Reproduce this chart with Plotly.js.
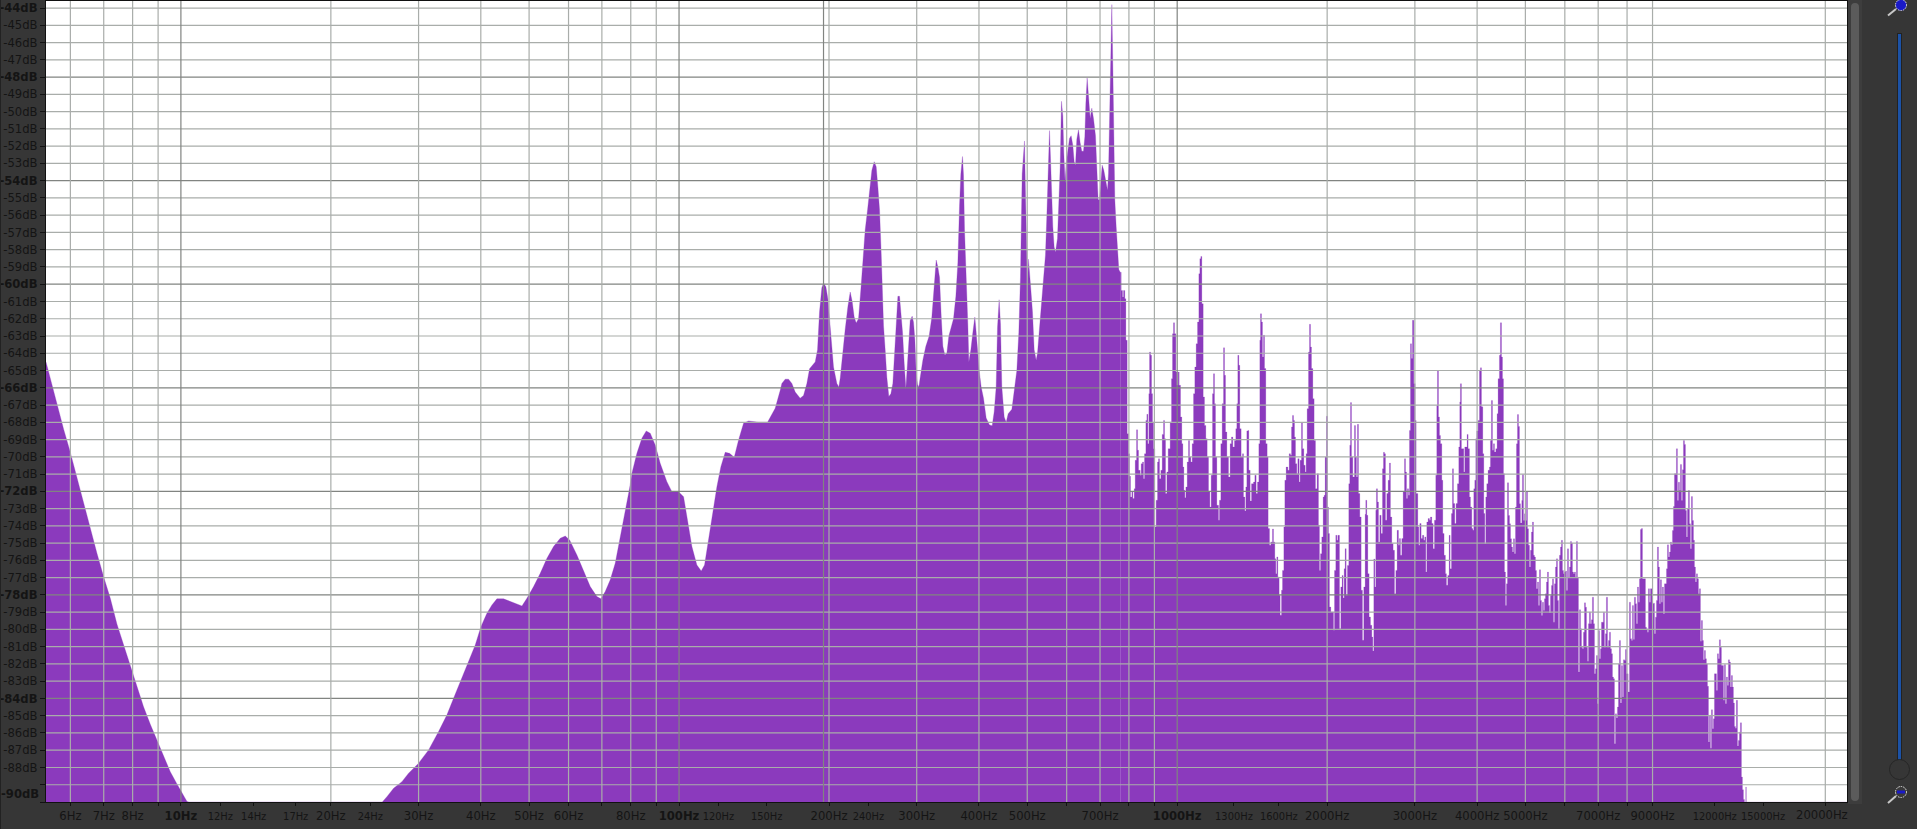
<!DOCTYPE html>
<html>
<head>
<meta charset="utf-8">
<script src="https://cdn.plot.ly/plotly-3.0.1.min.js"></script>
<style>
html,body{margin:0;padding:0;background:#363636;overflow:hidden;width:1917px;height:829px}
#chart{position:absolute;left:0;top:0;width:1917px;height:829px}
.d{position:absolute}
</style>
</head>
<body>
<div id="chart"></div>
<div class="d" style="left:0;top:0;width:1px;height:829px;background:#222"></div>
<div class="d" style="left:1848px;top:0;width:14px;height:804px;background:#3d3d3d"></div>
<div class="d" style="left:1851px;top:3px;width:8px;height:798px;background:#5b5b5b;border-radius:4px"></div>
<div class="d" style="left:1897px;top:33px;width:3px;height:727px;background:#1c52a6;border:1px solid #222;box-sizing:content-box"></div>
<div class="d" style="left:1889px;top:759px;width:19px;height:19px;border:1px solid #262626;border-radius:50%;background:#363636"></div>
<svg class="d" style="left:1885px;top:0" width="26" height="20"><line x1="11" y1="9" x2="3" y2="15.5" stroke="#c8c8c8" stroke-width="2"/><circle cx="16" cy="5" r="5.5" fill="#1a1ac8" stroke="#e8e8e8" stroke-dasharray="1.5 1"/></svg>
<svg class="d" style="left:1885px;top:784px" width="26" height="22"><line x1="11" y1="12" x2="3" y2="19" stroke="#c8c8c8" stroke-width="2"/><circle cx="16" cy="8" r="5.5" fill="#3a3a3a" stroke="#e8e8e8" stroke-dasharray="1.5 1"/><rect x="12" y="6.5" width="8" height="3" fill="#1a1ac8"/></svg>
<script>
// Spectrum readings: log10 of frequency (Hz) and level (dB), band by band.
const lowLogHz = [.7292,.7379,.7513,.7646,.7767,.7914,.8048,.8182,.8316,.8449,.8583,.8717,.8851,.8984,.9118,.9252,.9386,.9520,.9653,.9787,.9921,1.0021,1.0122,1.0160,1.4043];
const lowDb = [-64.5,-65.45,-67.05,-68.4,-69.6,-71.25,-72.7,-74.1,-75.6,-76.95,-78.2,-79.7,-80.9,-82.1,-83.3,-84.5,-85.5,-86.4,-87.4,-88.25,-88.95,-89.45,-89.97,-90,-90];

const riseLogHz = [1.4136,1.4270,1.4437,1.4571,1.4772,1.4973,1.5173,1.5341,1.5474,1.5608,1.5775,1.5909,1.6023,1.6143,1.6244,1.6344,1.6478,1.6612,1.6745,1.6846,1.6946,1.7080,1.7214,1.7348,1.7481,1.7615,1.7716,1.7803,1.7950,1.8084,1.8217,1.8351,1.8432,1.8518,1.8619,1.8719,1.8819,1.8920,1.9007,1.9054,1.9154,1.9254,1.9341,1.9422,1.9522,1.9622,1.9756,1.9856,1.9990,2.0091,2.0157,2.0258,2.0358,2.0445,2.0512,2.0592,2.0693,2.0760,2.0840,2.0927,2.1014,2.1108,2.1195,2.1295,2.1395,2.1596,2.1776,2.1930];
const riseDb = [-89.69,-89.2,-88.82,-88.33,-87.75,-86.98,-85.92,-84.95,-83.99,-83.02,-81.87,-80.9,-79.84,-79.07,-78.58,-78.23,-78.23,-78.39,-78.54,-78.64,-78.2,-77.52,-76.75,-75.88,-75.2,-74.72,-74.59,-74.82,-75.69,-76.65,-77.52,-78.1,-78.23,-77.81,-77.13,-76.17,-74.72,-73.08,-71.82,-70.95,-69.8,-68.93,-68.5,-68.64,-69.31,-70.38,-71.44,-72.02,-72.02,-72.31,-73.47,-75.2,-76.27,-76.61,-76.27,-74.82,-72.89,-71.73,-70.57,-69.74,-69.8,-70.03,-69.02,-68.06,-67.92,-68,-68,-67.19];

const midLogHz = [2.2031,2.2064,2.2131,2.2198,2.2265,2.2332,2.2432,2.2499,2.2566,2.2620,2.2733,2.2780,2.2820,2.2867,2.2901,2.2948,2.2988,2.3021,2.3055,2.3101,2.3168,2.3208,2.3235,2.3289,2.3336,2.3389,2.3436,2.3476,2.3516,2.3556,2.3603,2.3650,2.3690,2.3737,2.3784,2.3824,2.3871,2.3918,2.3958,2.3991,2.4025,2.4058,2.4085,2.4105,2.4138,2.4172,2.4212,2.4252,2.4292,2.4326,2.4359,2.4393,2.4426,2.4453,2.4487,2.4520,2.4553,2.4580,2.4607,2.4640,2.4680,2.4707,2.4734,2.4761,2.4787,2.4814,2.4841,2.4894,2.4954,2.5021,2.5075,2.5122,2.5162,2.5195,2.5229,2.5262,2.5296,2.5336,2.5376,2.5416,2.5456,2.5510,2.5557,2.5597,2.5630,2.5657,2.5690,2.5710,2.5731,2.5757,2.5777,2.5797,2.5818,2.5858,2.5898,2.5938,2.5965,2.5991,2.6025,2.6065,2.6112,2.6165,2.6232,2.6286,2.6326,2.6366,2.6393,2.6426,2.6453,2.6480,2.6527,2.6567,2.6607,2.6681,2.6734,2.6781,2.6821,2.6854,2.6888,2.6915,2.6935,2.6955,2.6975,2.6995,2.7015,2.7035,2.7062,2.7095,2.7129,2.7169,2.7196,2.7229,2.7269,2.7316,2.7356,2.7383,2.7410,2.7437,2.7457,2.7477,2.7503,2.7530,2.7557,2.7597,2.7624,2.7651,2.7677,2.7704,2.7724,2.7751,2.7771,2.7798,2.7838,2.7871,2.7905,2.7932,2.7958,2.7985,2.8019,2.8052,2.8085,2.8119,2.8146,2.8166,2.8192,2.8219,2.8253,2.8286,2.8320,2.8360,2.8387,2.8413,2.8440,2.8467,2.8494,2.8527,2.8560,2.8601,2.8621,2.8641,2.8667,2.8688,2.8708,2.8728,2.8748,2.8775,2.8801,2.8828];
const midDb = [-66.15,-65.75,-65.5,-65.5,-65.75,-66.25,-66.6,-66.45,-65.75,-64.9,-64.5,-63.8,-61.6,-60.2,-59.95,-60.15,-60.85,-62.1,-63.4,-64.8,-65.75,-65.95,-65.45,-63.8,-62.6,-61.3,-60.45,-61,-61.9,-62.25,-62,-60.3,-58.75,-56.85,-55.7,-54.75,-53.4,-52.9,-53.2,-54.35,-55.7,-58.2,-60.5,-62.4,-63.8,-65.4,-66.5,-66.35,-65.75,-63.8,-62.4,-60.7,-60.7,-61.7,-62.8,-64.6,-66.05,-64.85,-63.4,-62.1,-61.85,-62.2,-63.2,-65.2,-65.8,-65.95,-65.4,-64.4,-63.6,-63,-61.9,-59.75,-58.6,-59,-59.6,-61.8,-63.6,-64.1,-64,-63,-62.6,-62,-60.7,-58.75,-55.5,-53.6,-52.6,-53.65,-56.85,-58.8,-60.25,-62.3,-64.5,-63.8,-62.8,-61.9,-62.8,-63.8,-65,-65.95,-66.6,-67.75,-68.15,-68.2,-67.4,-65.95,-62.5,-60.9,-62.3,-65.95,-67.7,-68,-67.5,-67.25,-65.95,-65,-62.8,-59.6,-53.6,-52,-51.7,-54.8,-58.6,-60.15,-58.55,-59.6,-60.3,-61.6,-63.8,-64.4,-64,-62.8,-61.2,-59.75,-58.3,-56.05,-53.2,-51.1,-52.7,-55.1,-56.65,-57.85,-58.15,-57.35,-55.5,-53.2,-49.4,-50.25,-52.4,-54.15,-53,-52.5,-51.55,-51.4,-51.95,-52.9,-53.1,-51.6,-51.05,-51.8,-52.3,-52.3,-51.45,-49.55,-48.05,-49.05,-50.4,-49.8,-50.4,-51.4,-53,-55.1,-55.1,-54,-53.1,-53.4,-54,-54.55,-53.6,-50.75,-46.75,-43.8,-47.4,-50.75,-55.1,-56.65,-58,-59.15];

const upperLogHz = [2.8856,2.8876,2.8903,2.8923,2.8949,2.8970,2.8996,2.9023,2.9043,2.9063,2.9090,2.9110,2.9137,2.9157,2.9184,2.9204,2.9224,2.9257,2.9277,2.9304,2.9324,2.9344,2.9371,2.9391,2.9411,2.9431,2.9445,2.9465,2.9485,2.9505,2.9525,2.9552,2.9578,2.9605,2.9625,2.9645,2.9672,2.9699,2.9726,2.9746,2.9766,2.9793,2.9819,2.9859,2.9886,2.9906,2.9926,2.9946,2.9973,2.9993,3.0020,3.0040,3.0067,3.0093,3.0114,3.0134,3.0154,3.0174,3.0201,3.0227,3.0247,3.0274,3.0301,3.0328,3.0354,3.0381,3.0408,3.0435,3.0455,3.0475,3.0495,3.0522,3.0548,3.0575,3.0602,3.0629,3.0656,3.0682,3.0709,3.0729,3.0749,3.0769,3.0796,3.0829,3.0849,3.0876,3.0903,3.0930,3.0950,3.0970,3.0997,3.1030,3.1063,3.1090,3.1117,3.1150,3.1177,3.1197,3.1217,3.1237,3.1257,3.1284,3.1311,3.1331,3.1358,3.1378,3.1398,3.1418,3.1438,3.1465,3.1492,3.1532,3.1559,3.1585,3.1612,3.1639,3.1659,3.1672,3.1692,3.1712,3.1733,3.1753,3.1779,3.1806,3.1826,3.1853,3.1880,3.1913,3.1933,3.1960,3.1980,3.2000,3.2020,3.2047,3.2067,3.2094,3.2114,3.2141,3.2161,3.2187,3.2221,3.2248,3.2274,3.2295,3.2315,3.2335,3.2355,3.2375,3.2401,3.2422,3.2448,3.2468,3.2495,3.2515,3.2542,3.2569,3.2589,3.2609,3.2636,3.2656,3.2676,3.2696,3.2723,3.2749,3.2776,3.2809,3.2836,3.2856,3.2877,3.2903,3.2930,3.2950,3.2970,3.2997,3.3017,3.3037,3.3057,3.3084,3.3138,3.3158,3.3184,3.3205,3.3225,3.3258,3.3285,3.3311,3.3331,3.3352,3.3372,3.3392,3.3418,3.3445,3.3465,3.3479,3.3499,3.3525,3.3559,3.3579,3.3599,3.3619,3.3639,3.3666,3.3693,3.3719,3.3746,3.3773,3.3786,3.3806,3.3827,3.3853,3.3880,3.3907,3.3927,3.3947,3.3967,3.3987,3.4000,3.4020,3.4041,3.4067,3.4094,3.4121,3.4141,3.4161,3.4181,3.4208,3.4235,3.4261,3.4281,3.4308,3.4335,3.4362,3.4389,3.4415,3.4442,3.4462,3.4482,3.4509,3.4536,3.4563,3.4583,3.4603,3.4623,3.4643,3.4663,3.4683,3.4703,3.4723,3.4750,3.4777,3.4797,3.4830,3.4850,3.4870,3.4897,3.4924,3.4950,3.4970,3.4991,3.5011,3.5037,3.5064,3.5084,3.5111,3.5138,3.5165,3.5191,3.5211,3.5225,3.5245,3.5265,3.5285,3.5312,3.5332,3.5358,3.5385,3.5405,3.5432,3.5459,3.5479,3.5506,3.5526,3.5546,3.5572,3.5599,3.5626,3.5653,3.5673,3.5686,3.5706,3.5733,3.5753,3.5773,3.5800,3.5820,3.5840,3.5867,3.5887,3.5914,3.5934,3.5954,3.5974,3.5994,3.6014,3.6041,3.6068,3.6088,3.6108,3.6135,3.6155,3.6175,3.6195,3.6215,3.6241,3.6268,3.6288,3.6308,3.6329,3.6349,3.6369,3.6396,3.6422,3.6442,3.6469,3.6489];
const upperDb = [-59.31,-60.36,-60.74,-60.36,-60.84,-63.25,-68.66,-69.82,-71.13,-72.33,-72.04,-72.42,-71.85,-70.2,-68.43,-69.62,-70.78,-71.07,-70.4,-70.3,-71.27,-69.82,-67.89,-67.54,-69.24,-66.34,-63.93,-64.12,-66.34,-67.98,-69.53,-74.07,-72.52,-70.3,-70.11,-71.27,-70.78,-68.7,-67.89,-68.95,-72.13,-70.88,-69.53,-67.98,-65.47,-62.87,-62.23,-62.87,-65.09,-65.86,-65.09,-65.86,-67.69,-69.24,-70.59,-71.94,-72.37,-71.75,-70.3,-69.05,-70.01,-70.3,-69.24,-66.34,-64.8,-63.45,-62.19,-59.39,-58.52,-58.39,-61.13,-66.53,-68.18,-68.95,-70.01,-72.04,-72.91,-71.07,-66.34,-65.18,-66.92,-70.01,-72.81,-73.68,-72.52,-69.24,-66.92,-63.68,-65.28,-68.56,-70.01,-71.17,-69.24,-68.85,-69.43,-69.05,-68.37,-66.92,-64.12,-64.7,-68.37,-70.01,-69.82,-72.33,-73.14,-71.75,-68.5,-68.47,-70.78,-72.56,-71.56,-71.46,-71.07,-72.13,-71.46,-69.24,-63.25,-61.71,-62.19,-64.22,-62.96,-64.89,-69.24,-70.01,-74.16,-75.13,-74.93,-74.18,-74.93,-75.9,-76.77,-75.8,-76.96,-78.02,-79.18,-77.73,-76.58,-74.07,-71.36,-70.59,-70.78,-69.82,-69.91,-68.27,-67.6,-67.89,-68.85,-70.4,-70.98,-70.11,-71.46,-70.2,-68.04,-69.53,-70.49,-70.88,-69.82,-67.21,-63.93,-62.32,-63.64,-64.89,-66.63,-69.05,-71.85,-70.98,-73.97,-76.58,-75.61,-74.64,-72.33,-72.23,-70.01,-67.65,-72.91,-74.45,-78.7,-78.99,-80.05,-76.58,-74.55,-74.84,-74.55,-79.96,-77.54,-76.87,-78.18,-76.48,-75.32,-78.02,-76.29,-71.56,-69.33,-66.86,-70.01,-71.17,-68.18,-70.01,-71.17,-68.12,-72.13,-73.49,-77.73,-80.63,-77.54,-73.33,-72.52,-73.39,-76.77,-79.28,-79.76,-80.44,-81.25,-75.92,-77.54,-73.1,-71.85,-72.62,-74.93,-73.39,-74.45,-70.69,-69.74,-69.82,-73.68,-72.13,-71.36,-70.36,-73.49,-75.03,-75.42,-77.93,-76.58,-74.26,-75.13,-74.74,-75.71,-74.74,-72.04,-70.11,-70.88,-72.42,-71.85,-72.23,-68.47,-63.45,-64.31,-62.09,-65.76,-67.89,-72.13,-74.07,-75.13,-73.87,-74.74,-74.55,-74.84,-74.64,-76.67,-73.78,-73.58,-73.68,-73.49,-73.87,-75.32,-73.68,-71.07,-67.02,-65.03,-67.69,-68.76,-69.24,-71.36,-74.45,-75.71,-76.77,-77.44,-76.87,-74.55,-76.48,-73.29,-70.69,-72.71,-73.87,-72.71,-71.56,-69.43,-66.82,-65.76,-69.53,-69.53,-70.88,-69.43,-69.43,-68.7,-69.53,-72.33,-72.91,-74.16,-74.26,-71.85,-71.36,-68.95,-68.5,-67.89,-64.99,-64.84,-67.1,-69.82,-73.29,-75.03,-72.33,-71.56,-70.78,-70.59,-69.05,-66.73,-69.62,-69.24,-69.72,-69.53,-67.5,-65.47,-64.12,-62.23];

const topLogHz = [3.6510,3.6530,3.6550,3.6570,3.6590,3.6610,3.6630,3.6651,3.6671,3.6691,3.6711,3.6731,3.6751,3.6771,3.6791,3.6811,3.6831,3.6851,3.6871,3.6891,3.6918,3.6931,3.6952,3.6972,3.6992,3.7012,3.7032,3.7052,3.7072,3.7092,3.7112,3.7132,3.7152,3.7172,3.7192,3.7212,3.7233,3.7253,3.7273,3.7293,3.7313,3.7333,3.7353,3.7373,3.7393,3.7413,3.7433,3.7453,3.7473,3.7493,3.7514,3.7534,3.7554,3.7574,3.7594,3.7614,3.7634,3.7654,3.7674,3.7694,3.7714,3.7734,3.7754,3.7774,3.7795,3.7815,3.7835,3.7855,3.7875,3.7895,3.7915,3.7935,3.7955,3.7975,3.7995,3.8015,3.8035,3.8055,3.8076,3.8096,3.8116,3.8136,3.8156,3.8176,3.8196,3.8216,3.8236,3.8256,3.8276,3.8296,3.8316,3.8336,3.8357,3.8377,3.8397,3.8417,3.8437,3.8457,3.8477,3.8497,3.8517,3.8537,3.8557,3.8577,3.8597,3.8617,3.8638,3.8658,3.8678,3.8698,3.8718,3.8738,3.8758,3.8778,3.8798,3.8818,3.8838,3.8858,3.8878,3.8898,3.8919,3.8939,3.8959,3.8979,3.8999,3.9019,3.9052,3.9079,3.9099,3.9119,3.9139,3.9159,3.9179,3.9200,3.9220,3.9240,3.9260,3.9280,3.9300,3.9320,3.9340,3.9360,3.9380,3.9400,3.9420,3.9440,3.9460,3.9480,3.9501,3.9521,3.9541,3.9561,3.9581,3.9601,3.9621,3.9641,3.9661,3.9681,3.9701,3.9721,3.9741,3.9761,3.9782,3.9802,3.9822,3.9842,3.9862,3.9882,3.9902,3.9922,3.9942,3.9962,3.9982,4.0002,4.0022,4.0042,4.0062,4.0083,4.0103,4.0123,4.0143,4.0163,4.0183,4.0203,4.0223,4.0243,4.0263,4.0283,4.0303,4.0323,4.0343,4.0364,4.0384,4.0404,4.0424,4.0444,4.0464,4.0484,4.0504,4.0524,4.0544,4.0564,4.0584,4.0604,4.0624,4.0645,4.0665,4.0685,4.0705,4.0725,4.0745,4.0765,4.0785,4.0805,4.0825,4.0845,4.0865,4.0885,4.0905,4.0925,4.0946,4.0966,4.0986,4.1006,4.1026,4.1046,4.1066,4.1086,4.1106,4.1126,4.1146,4.1166,4.1186,4.1206,4.1226,4.1247,4.1267,4.1287,4.1307,4.1327,4.1347,4.1367,4.1387,4.1403,4.1414,4.1424,4.3446];
const topDb = [-64.22,-65.48,-70.98,-76.68,-78.61,-77.36,-71.5,-73.4,-73.88,-74.75,-75.23,-75.52,-74.75,-75.62,-72.91,-69.25,-67.55,-68.24,-72.72,-73.84,-72.53,-71.02,-73.69,-73.3,-73.69,-72.04,-74.17,-75.13,-76.39,-75.42,-74.36,-73.78,-75.71,-75.81,-76.58,-77.64,-77.26,-78.61,-76.54,-78.32,-79.19,-78.42,-78.9,-78.22,-77.93,-77.26,-76.68,-78.61,-79.05,-78.03,-77.45,-77.07,-79.58,-77.36,-76.39,-75.91,-78.32,-79.96,-75.71,-75.23,-74.84,-76.58,-76.78,-76.68,-76.62,-77.74,-75.33,-76.97,-76.39,-74.9,-75,-76.68,-76.78,-76.68,-76.97,-74.9,-76.97,-82.47,-78.86,-79.96,-81.03,-81.12,-80.16,-78.46,-78.71,-81.03,-81.85,-79.67,-78.99,-79.67,-79.44,-78.13,-79.67,-82.57,-82.28,-81.51,-84.31,-80.06,-81.7,-81.12,-79.58,-79.58,-79,-81.03,-80.25,-78.13,-81.03,-80.64,-80.16,-81.12,-81.41,-82.76,-82.86,-86.62,-84.89,-85.14,-84.5,-82,-80.64,-84.27,-82.09,-83.92,-81.76,-81.8,-81.16,-82.57,-83.63,-78.42,-80.54,-80.64,-78.61,-80.58,-78.13,-78.51,-79.67,-77.55,-78.42,-77.07,-74.21,-74.15,-77.07,-77.07,-77.07,-79.87,-79.96,-80.16,-77.64,-78.42,-77.64,-77.64,-78.51,-78.48,-80.25,-79.29,-78.32,-75.23,-76.39,-78.51,-77.12,-78.42,-77.55,-79.09,-77.36,-77.36,-76.49,-75.1,-75.81,-75.52,-74.94,-75.1,-74.27,-72.88,-70.98,-70.98,-69.53,-72.53,-71.47,-71.95,-70.44,-72.53,-70.75,-69.05,-69.28,-73.11,-74.65,-73.01,-71.95,-73.88,-75.33,-72.3,-73.69,-74.84,-76.39,-77.26,-76.78,-77.07,-77.93,-77.64,-80.68,-79.48,-80.64,-81.76,-81.22,-81.7,-82,-83.3,-86.53,-84.98,-86.88,-84.65,-85.76,-85.18,-82.57,-82.57,-83.54,-81.41,-81.7,-80.6,-81.03,-82.09,-82.09,-84.11,-82.03,-84.31,-82.76,-83.25,-81.76,-81.89,-83.34,-82.67,-83.34,-84.27,-85.62,-85.72,-84.11,-86.76,-86.43,-85.95,-85.41,-88.55,-89.29,-89.85,-90,-90,-89.13,-90,-90];

// Axis contents
const labelledDb = [-44,-45,-46,-47,-48,-49,-50,-51,-52,-53,-54,-55,-56,-57,-58,-59,-60,-61,-62,-63,-64,-65,-66,-67,-68,-69,-70,-71,-72,-73,-74,-75,-76,-77,-78,-79,-80,-81,-82,-83,-84,-85,-86,-87,-88];
const majorDb = [-48,-54,-60,-66,-72,-78,-84];
const boldDb = [-44,-48,-54,-60,-66,-72,-78,-84];
const minorHz = [6,7,8,9,20,30,40,50,60,70,80,90,200,300,400,500,600,700,800,900,2000,3000,4000,5000,6000,7000,8000,9000,20000];
const majorHz = [10,100,195,1000];
const normalHzLabels = [6,7,8,20,30,40,50,60,80,200,300,400,500,700,2000,3000,4000,5000,7000,9000];
const smallHzLabels = [12,14,17,24,120,150,240,1300,1600,12000,15000];
const boldHzLabels = [10,100,1000];
const unlabelledHzTicks = [9,70,90,600,800,900,6000,8000,20000];

const yMin = -90, yMax = -43.59, xMinLog = 0.7292, xMaxLog = 4.3446;
const purple = '#8b3abd', minorLine = '#a9adaa', majorLine = '#818481', ink = '#141414';
const tickFont = {family:'"DejaVu Sans", sans-serif', size:11.6, color:ink};

const toHz = a => a.map(v => Math.pow(10, v));
const smoothHz = toHz([].concat(lowLogHz, riseLogHz, midLogHz, [upperLogHz[0]]));
const smoothDb = [].concat(lowDb, riseDb, midDb, [upperDb[0]]);
const fineHz = toHz([].concat(upperLogHz, topLogHz));
const fineDb = [].concat(upperDb, topDb);

const xTicks = [].concat(normalHzLabels, smallHzLabels, boldHzLabels, unlabelledHzTicks).sort((a, b) => a - b);
const xText = xTicks.map(f => {
  if (boldHzLabels.includes(f)) return '<b>' + f + 'Hz</b>';
  if (smallHzLabels.includes(f)) return '<span style="font-size:9.9px">' + f + 'Hz</span>';
  if (normalHzLabels.includes(f)) return f + 'Hz';
  return '';
});
const yTicks = labelledDb.concat([-89, -90]);
const yText = yTicks.map(d => {
  if (d < -88) return '';
  return boldDb.includes(d) ? '<b>' + d + 'dB</b>' : d + 'dB';
});

const gridShapes = [];
labelledDb.concat([-89]).forEach(d => gridShapes.push({type:'line', xref:'paper', yref:'y', x0:0, x1:1, y0:d, y1:d, layer:'above',
  line:{color: majorDb.includes(d) ? majorLine : minorLine, width:1.2}}));
minorHz.forEach(f => gridShapes.push({type:'line', xref:'x', yref:'paper', x0:f, x1:f, y0:0, y1:1, layer:'above', line:{color:minorLine, width:1.2}}));
majorHz.forEach(f => gridShapes.push({type:'line', xref:'x', yref:'paper', x0:f, x1:f, y0:0, y1:1, layer:'above', line:{color:majorLine, width:1.2}}));

const base = xs => ({x:[xs[0], xs[xs.length-1]], y:[yMin, yMin], mode:'lines', line:{width:0, color:purple}, hoverinfo:'skip', showlegend:false});
const smoothTrace = {x:smoothHz, y:smoothDb, mode:'lines', line:{width:0.3, color:purple}, fill:'tonexty', fillcolor:purple, showlegend:false};
const fineTrace = {x:fineHz, y:fineDb, mode:'lines', line:{width:0.2, color:purple, shape:'hv'}, fill:'tonexty', fillcolor:purple, showlegend:false};

const layout = {
  width:1917, height:829,
  margin:{l:45.5, r:70, t:1, b:27, pad:0},
  paper_bgcolor:'#363636', plot_bgcolor:'#ffffff',
  font:{family:'"DejaVu Sans", sans-serif', size:11.6, color:ink},
  showlegend:false,
  xaxis:{type:'log', range:[xMinLog, xMaxLog], tickmode:'array', tickvals:xTicks, ticktext:xText, tickangle:0,
    showgrid:false, zeroline:false, showline:true, linecolor:'#111', linewidth:1.2, mirror:true, ticks:'outside', ticklen:3, tickcolor:'#111', tickwidth:1,
    tickfont:tickFont, layer:'above traces'},
  yaxis:{range:[yMin, yMax], tickmode:'array', tickvals:yTicks, ticktext:yText,
    showgrid:false, zeroline:false, showline:true, linecolor:'#111', linewidth:1.2, mirror:true, ticks:'outside', ticklen:5, tickcolor:'#111', tickwidth:1,
    tickfont:tickFont, layer:'above traces'},
  shapes:gridShapes,
  annotations:[
    {xref:'paper', yref:'y', x:0, y:-89.53, xanchor:'right', yanchor:'middle', xshift:-5, showarrow:false, text:'<b>-90dB</b>', font:tickFont},
    {xref:'x', yref:'paper', x:Math.log10(20000), y:0, xanchor:'center', yanchor:'top', xshift:-3.6, yshift:-4, showarrow:false, text:'20000Hz', font:tickFont}
  ]
};
Plotly.newPlot('chart', [base(smoothHz), smoothTrace, base(fineHz), fineTrace], layout, {displayModeBar:false, staticPlot:true});
</script>
</body>
</html>
